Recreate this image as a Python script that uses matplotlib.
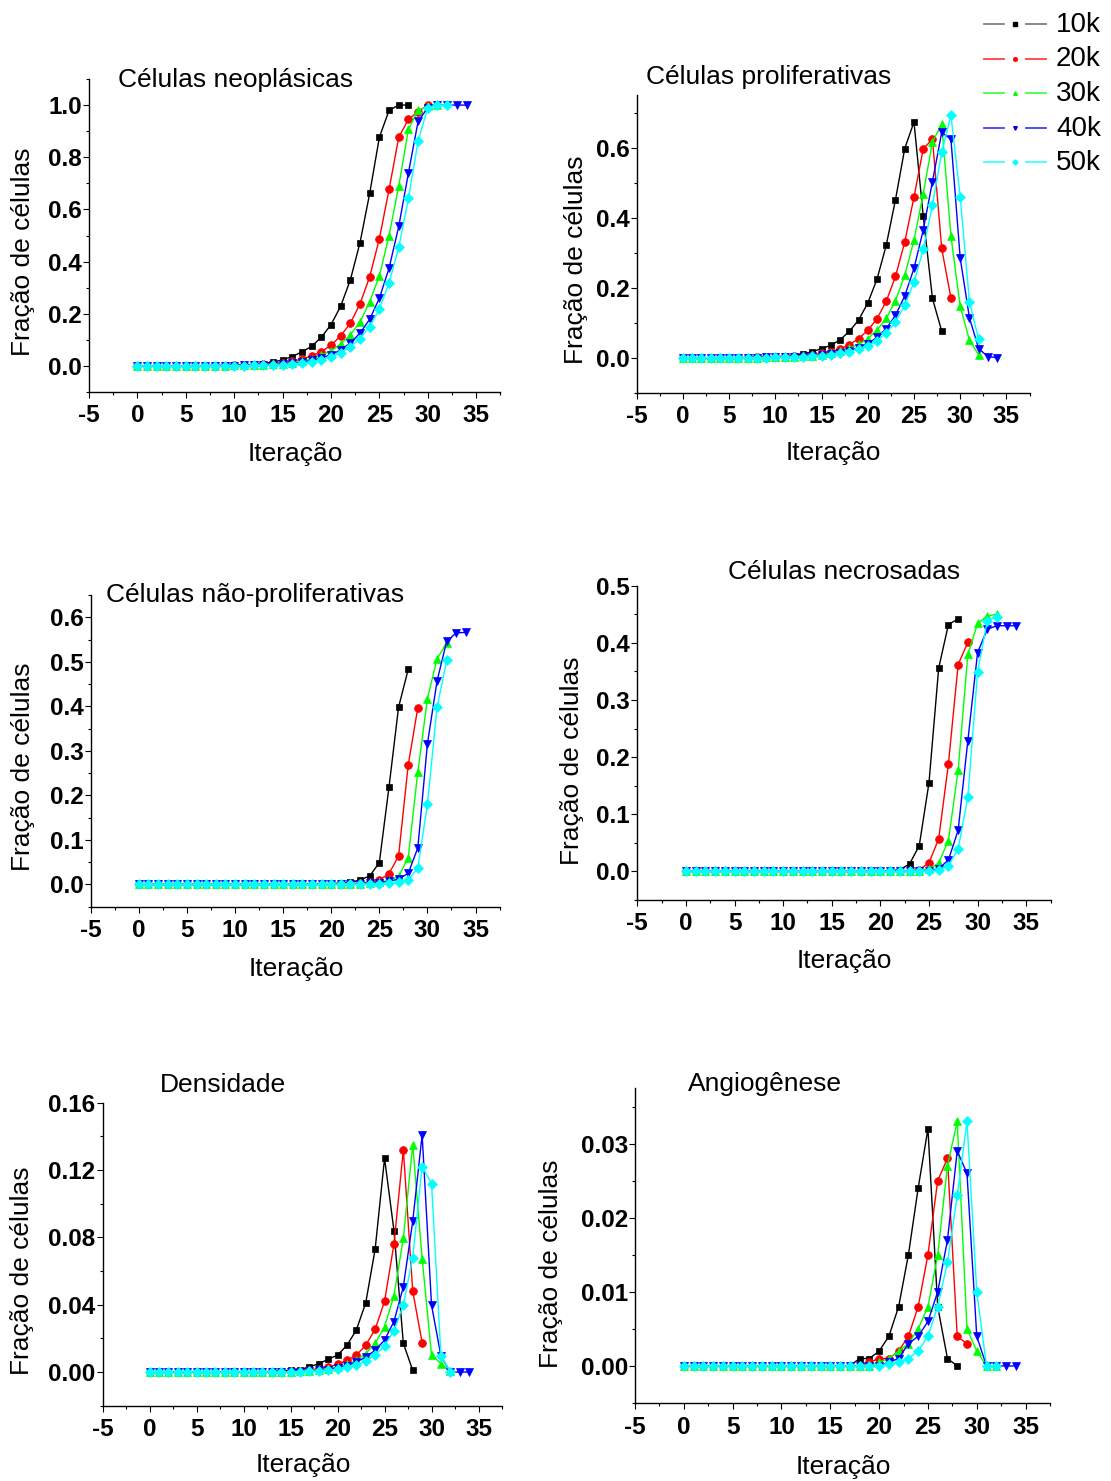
import matplotlib
matplotlib.use("Agg")
import matplotlib.pyplot as plt
from matplotlib.ticker import MultipleLocator, FormatStrFormatter
from matplotlib.lines import Line2D

plt.rcParams['font.family'] = ['Liberation Sans', 'DejaVu Sans']
plt.rcParams['axes.unicode_minus'] = False

# ---------------- data: fraction of cells per iteration ----------------
series_labels = ["10k", "20k", "30k", "40k", "50k"]
colors = ["#000000", "#ff0000", "#00ff00", "#0000ff", "#00ffff"]
markers = ["s", "o", "^", "v", "D"]
msizes = [5.0, 5.6, 6.4, 6.4, 5.2]

neo_10k = [0]*5 + [0.0005, 0.001, 0.001, 0.002, 0.002, 0.003, 0.004, 0.006, 0.009, 0.015, 0.023, 0.036,
                   0.054, 0.075, 0.11, 0.158, 0.229, 0.33, 0.473, 0.662, 0.877, 0.98, 1.0, 1.0]
neo_20k = [0]*7 + [0.001, 0.001, 0.001, 0.002, 0.003, 0.004, 0.006, 0.009, 0.013, 0.018, 0.026, 0.038,
                   0.055, 0.079, 0.115, 0.164, 0.238, 0.342, 0.488, 0.677, 0.877, 0.945, 0.975, 1.0]
neo_30k = [0]*8 + [0.001, 0.001, 0.002, 0.002, 0.003, 0.004, 0.006, 0.008, 0.012, 0.018, 0.027, 0.040,
                   0.058, 0.083, 0.119, 0.169, 0.246, 0.346, 0.5, 0.69, 0.907, 0.98, 0.995, 1.0]
neo_40k = [0]*9 + [0.001, 0.001, 0.002, 0.002, 0.003, 0.005, 0.007, 0.010, 0.014, 0.021, 0.030, 0.043,
                   0.061, 0.088, 0.126, 0.179, 0.26, 0.375, 0.535, 0.74, 0.938, 0.99, 1.0, 1.0, 1.0, 1.0]
neo_50k = [0]*10 + [0.001, 0.001, 0.002, 0.002, 0.003, 0.005, 0.008, 0.011, 0.016, 0.024, 0.035, 0.05,
                    0.074, 0.105, 0.151, 0.218, 0.318, 0.455, 0.642, 0.862, 0.99, 1.0, 1.0]

pro_10k = [0]*7 + [0.001, 0.001, 0.002, 0.003, 0.004, 0.006, 0.011, 0.017, 0.026, 0.035, 0.051, 0.075,
                   0.107, 0.156, 0.224, 0.321, 0.451, 0.597, 0.673, 0.405, 0.169, 0.076]
pro_20k = [0]*8 + [0.001, 0.001, 0.002, 0.003, 0.004, 0.006, 0.009, 0.012, 0.017, 0.025, 0.037, 0.054,
                   0.078, 0.111, 0.161, 0.232, 0.33, 0.458, 0.596, 0.624, 0.312, 0.17]
pro_30k = [0]*9 + [0.001, 0.001, 0.002, 0.003, 0.004, 0.006, 0.009, 0.013, 0.019, 0.027, 0.038, 0.054,
                   0.079, 0.112, 0.163, 0.235, 0.335, 0.468, 0.616, 0.667, 0.347, 0.147, 0.05, 0.008]
pro_40k = [0]*9 + [0.001, 0.001, 0.002, 0.002, 0.003, 0.005, 0.007, 0.010, 0.014, 0.020, 0.029, 0.04,
                   0.058, 0.083, 0.121, 0.176, 0.255, 0.364, 0.503, 0.643, 0.624, 0.285, 0.114, 0.026,
                   0.003, 0.0]
pro_50k = [0]*10 + [0.001, 0.001, 0.002, 0.003, 0.004, 0.006, 0.008, 0.012, 0.017, 0.024, 0.034, 0.048,
                    0.07, 0.102, 0.149, 0.215, 0.309, 0.436, 0.586, 0.692, 0.46, 0.16, 0.052]

npr_10k = [0]*18 + [0.001, 0.001, 0.002, 0.003, 0.005, 0.01, 0.019, 0.049, 0.218, 0.398, 0.483]
npr_20k = [0]*20 + [0.001, 0.001, 0.002, 0.003, 0.005, 0.01, 0.024, 0.064, 0.268, 0.397]
npr_30k = [0]*21 + [0.001, 0.001, 0.002, 0.003, 0.005, 0.009, 0.018, 0.06, 0.253, 0.417, 0.507, 0.542]
npr_40k = [0]*22 + [0.001, 0.002, 0.003, 0.004, 0.007, 0.012, 0.025, 0.082, 0.316, 0.457, 0.546, 0.565,
                    0.566]
npr_50k = [0]*23 + [0.001, 0.001, 0.002, 0.003, 0.006, 0.01, 0.037, 0.18, 0.398, 0.503]

nec_10k = [0]*21 + [0.001, 0.003, 0.013, 0.045, 0.155, 0.356, 0.432, 0.442]
nec_20k = [0]*23 + [0.001, 0.003, 0.015, 0.057, 0.188, 0.362, 0.401]
nec_30k = [0]*24 + [0.001, 0.004, 0.015, 0.054, 0.177, 0.38, 0.434, 0.447, 0.45]
nec_40k = [0]*25 + [0.001, 0.005, 0.02, 0.072, 0.229, 0.383, 0.424, 0.43, 0.43, 0.43]
nec_50k = [0]*25 + [0.001, 0.003, 0.01, 0.039, 0.131, 0.349, 0.439, 0.446]

den_10k = [0]*13 + [0.0005, 0.0007, 0.001, 0.0015, 0.003, 0.005, 0.0075, 0.0101, 0.0159, 0.025, 0.0412,
                    0.0731, 0.127, 0.084, 0.017, 0.001]
den_20k = [0]*15 + [0.0005, 0.0008, 0.0012, 0.002, 0.003, 0.0045, 0.007, 0.010, 0.016, 0.0254, 0.042,
                    0.076, 0.132, 0.048, 0.0174]
den_30k = [0]*16 + [0.0005, 0.0008, 0.0012, 0.002, 0.003, 0.0045, 0.007, 0.011, 0.017, 0.027, 0.0454,
                    0.0795, 0.135, 0.0674, 0.0101, 0.005, 0.0005]
den_40k = [0]*17 + [0.0005, 0.001, 0.0015, 0.0025, 0.0038, 0.006, 0.0088, 0.013, 0.019, 0.030, 0.0507,
                    0.0897, 0.141, 0.0398, 0.0095, 0.0, 0.0, 0.0]
den_50k = [0]*17 + [0.0004, 0.0007, 0.001, 0.0017, 0.0028, 0.0042, 0.0065, 0.0100, 0.0157, 0.0245, 0.040,
                    0.068, 0.122, 0.112, 0.0095, 0.0]

ang_10k = [0]*18 + [0.001, 0.001, 0.002, 0.004, 0.008, 0.015, 0.024, 0.032, 0.008, 0.001, 0.0]
ang_20k = [0]*19 + [0.0005, 0.001, 0.001, 0.002, 0.004, 0.008, 0.015, 0.025, 0.028, 0.004, 0.003]
ang_30k = [0]*20 + [0.0005, 0.001, 0.002, 0.003, 0.005, 0.008, 0.015, 0.027, 0.033, 0.005, 0.002, 0.0, 0.0]
ang_40k = [0]*21 + [0.0005, 0.001, 0.003, 0.004, 0.006, 0.010, 0.017, 0.029, 0.026, 0.004, 0.0, 0.0, 0.0,
                    0.0]
ang_50k = [0]*21 + [0.0003, 0.0005, 0.001, 0.002, 0.004, 0.008, 0.014, 0.023, 0.033, 0.010, 0.0, 0.0]

x_ticks = [-5, 0, 5, 10, 15, 20, 25, 30, 35]
ylabel_text = "Fração de células"
xlabel_text = "Iteração"

# ---------------- layout (pixel boxes) ----------------
W, H = 1111, 1481
fig = plt.figure(figsize=(W / 100, H / 100), dpi=100)

def fx(x):
    return x / W

def fy(y):
    return 1 - y / H

panels = [
    dict(title="Células neoplásicas", data=[neo_10k, neo_20k, neo_30k, neo_40k, neo_50k],
         box=(89, 79, 500.4, 392), ylim=(-0.1, 1.1), major=0.2, minor=0.1, fmt="%.1f",
         tpos=(236, 87), ypos=(23, 252), xpos=(295.5, 461)),
    dict(title="Células proliferativas", data=[pro_10k, pro_20k, pro_30k, pro_40k, pro_50k],
         box=(636.7, 95, 1029.5, 392.7), ylim=(-0.1, 0.75), major=0.2, minor=0.1, fmt="%.1f",
         tpos=(769, 84), ypos=(576, 260), xpos=(833, 460)),
    dict(title="Células não-proliferativas", data=[npr_10k, npr_20k, npr_30k, npr_40k, npr_50k],
         box=(90.7, 595, 499.6, 906.7), ylim=(-0.05, 0.65), major=0.1, minor=0.05, fmt="%.1f",
         tpos=(255, 602), ypos=(23, 767), xpos=(296.7, 976)),
    dict(title="Células necrosadas", data=[nec_10k, nec_20k, nec_30k, nec_40k, nec_50k],
         box=(637.3, 585.7, 1050.5, 900), ylim=(-0.05, 0.5), major=0.1, minor=0.05, fmt="%.1f",
         tpos=(843.7, 579), ypos=(572.5, 760.5), xpos=(844.5, 968.5)),
    dict(title="Densidade", data=[den_10k, den_20k, den_30k, den_40k, den_50k],
         box=(102.7, 1102.7, 502, 1405.7), ylim=(-0.02, 0.16), major=0.04, minor=0.02, fmt="%.2f",
         tpos=(223, 1092), ypos=(22, 1270.5), xpos=(303, 1472)),
    dict(title="Angiogênese", data=[ang_10k, ang_20k, ang_30k, ang_40k, ang_50k],
         box=(635, 1088, 1050, 1403), ylim=(-0.005, 0.0375), major=0.01, minor=0.005, fmt="%.2f",
         tpos=(764.5, 1091), ypos=(551, 1264), xpos=(843, 1474)),
]

for p in panels:
    l, t, r, b = p["box"]
    ax = fig.add_axes([fx(l), fy(b), (r - l) / W, (b - t) / H])
    for vals, c, m, ms in zip(p["data"], colors, markers, msizes):
        it = list(range(len(vals)))
        ax.plot(it, vals, color=c, lw=1.0, marker=m, ms=ms, mfc=c, mec=c, mew=0.5)
    ax.set_xlim(-5, 37.5)
    ax.set_ylim(*p["ylim"])
    ax.set_xticks(x_ticks)
    ax.xaxis.set_minor_locator(MultipleLocator(2.5))
    ax.yaxis.set_major_locator(MultipleLocator(p["major"]))
    ax.yaxis.set_minor_locator(MultipleLocator(p["minor"]))
    ax.yaxis.set_major_formatter(FormatStrFormatter(p["fmt"]))
    ax.set_yticks([v for v in ax.get_yticks() if v >= -1e-9 and v <= p["ylim"][1] + 1e-9])
    ax.set_ylim(*p["ylim"])
    for side in ("top", "right"):
        ax.spines[side].set_visible(False)
    for side in ("left", "bottom"):
        ax.spines[side].set_linewidth(1.0)
    ax.tick_params(which="major", direction="out", length=4, width=0.8, labelsize=17.5)
    ax.tick_params(which="minor", direction="out", length=2.4, width=0.8)
    ax.tick_params(axis="y", which="major", pad=1.2)
    ax.tick_params(axis="x", which="major", pad=5.0)
    for lab in ax.get_xticklabels() + ax.get_yticklabels():
        lab.set_fontweight("bold")
    ax.patch.set_alpha(0)

    fig.text(fx(p["tpos"][0]), fy(p["tpos"][1]), p["title"], ha="center", va="baseline", fontsize=19)
    fig.text(fx(p["ypos"][0]), fy(p["ypos"][1]), ylabel_text, ha="center", va="center",
             rotation=90, fontsize=19)
    fig.text(fx(p["xpos"][0]), fy(p["xpos"][1]), xlabel_text, ha="center", va="baseline", fontsize=19)

# ---------------- legend (top-right corner) ----------------
lax = fig.add_axes([0, 0, 1, 1])
lax.set_xlim(0, W)
lax.set_ylim(H, 0)
lax.axis("off")
row_y = [24, 58.5, 93, 127.5, 162]
for yy, c, m, lab in zip(row_y, colors, markers, series_labels):
    lc = "#555555" if c == "#000000" else c
    lax.add_line(Line2D([984, 1003.5], [yy, yy], color=lc, lw=1.3, alpha=0.75))
    lax.add_line(Line2D([1026, 1045.5], [yy, yy], color=lc, lw=1.3, alpha=0.75))
    lax.add_line(Line2D([1015], [yy], color=c, marker=m, ms=2.6, mec=c, mfc=c, lw=0))
    lax.text(1056, yy + 1, lab, ha="left", va="center", fontsize=20)

fig.savefig("out.png", dpi=100)
